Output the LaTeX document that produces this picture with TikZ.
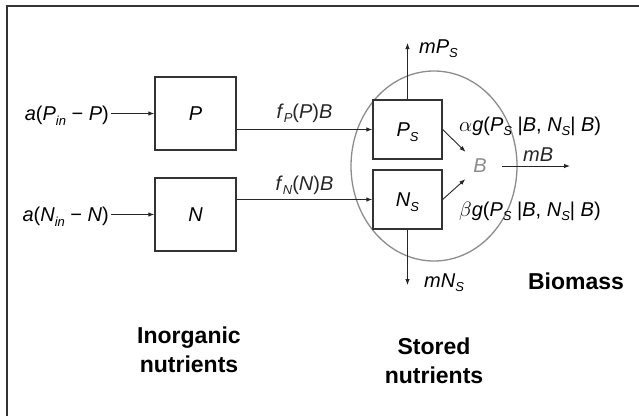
\documentclass[tikz,border=0pt]{standalone}
\usepackage{fontspec}
\setmainfont{Liberation Sans}
\usetikzlibrary{arrows.meta}
\newcommand{\lsub}[1]{\raisebox{-0.45ex}{\fontsize{13}{13}\selectfont\textit{#1}}}

\begin{document}
\begin{tikzpicture}[x=1pt, y=-1pt,
    every node/.style={font=\fontsize{20}{24}\selectfont},
    pool/.style={draw=black!80, fill=white, line width=1.3pt, minimum width=81pt, minimum height=73pt, inner sep=0pt},
    store/.style={draw=black!80, fill=white, line width=1.3pt, minimum width=69pt, minimum height=59pt, inner sep=0pt, text depth=0pt},
    flux/.style={inner sep=2pt, text height=14pt, text depth=0pt},
    title/.style={font=\fontsize{23}{29}\selectfont\bfseries, align=center},
    >={Latex[length=6pt, width=4.5pt]}]
    \useasboundingbox (0,0) rectangle (639,416);
    \draw [black!80, line width=1.4pt] (7,416) -- (7,6) -- (639,6);

    \draw [black!45, line width=1.3pt] (434,166) ellipse [x radius=83pt, y radius=95pt];

    \node [pool] (P) at (195.5,113.5) {\textit{P}};
    \node [pool] (N) at (195.5,214.5) {\textit{N}};
    \node [store] (Ps) at (407.5,129.5) {\textit{P}\lsub{S}};
    \node [store] (Ns) at (407.5,199.5) {\textit{N}\lsub{S}};
    \node [text=black!45] (B) at (480,166) {\textit{B}};

    \node [flux, anchor=east] (aP) at (111,113.5) {\textit{a}(\textit{P}\lsub{in} − \textit{P})};
    \node [flux, anchor=east] (aN) at (111,214.5) {\textit{a}(\textit{N}\lsub{in} − \textit{N})};

    \coordinate (mPend) at (407.5,43);
    \coordinate (mNend) at (407.5,285);
    \coordinate (mBend) at (570,166);

    \begin{scope}[->, black!85, line width=0.9pt]
        \draw (aP) -- (P);
        \draw (aN) -- (N);
        \draw (P.east |- Ps.west) to node [flux, above=9pt] {\textit{f}\lsub{P}(\textit{P})\textit{B}} (Ps.west);
        \draw (N.east |- Ns.west) to node [flux, above=7pt] {\textit{f}\lsub{N}(\textit{N})\textit{B}} (Ns.west);
        \draw (Ps) -- (mPend);
        \draw (Ns) -- (mNend);
        \draw [shorten >=6pt] (Ps.east) -- (B);
        \draw [shorten >=6pt] (Ns.east) -- (B);
        \draw [shorten <=12pt] (B) to node [flux, above=2pt, pos=0.6] {\textit{mB}} (mBend);
    \end{scope}

    \node [flux, anchor=west] (mP) at (417,46) {\textit{mP}\lsub{S}};
    \node [flux, anchor=west] (mN) at (422,280) {\textit{mN}\lsub{S}};
    \node [flux, anchor=west] (gP) at (457,124) {$\alpha$\textit{g}(\textit{P}\lsub{S} |\textit{B}, \textit{N}\lsub{S}| \textit{B})};
    \node [flux, anchor=west] (gN) at (457,209) {$\beta$\textit{g}(\textit{P}\lsub{S} |\textit{B}, \textit{N}\lsub{S}| \textit{B})};

    \node [title] (inorg) at (189,350) {Inorganic\\nutrients};
    \node [title] (stored) at (434,361) {Stored\\nutrients};
    \node [title] (bio) at (576,281) {Biomass};
\end{tikzpicture}
\end{document}
